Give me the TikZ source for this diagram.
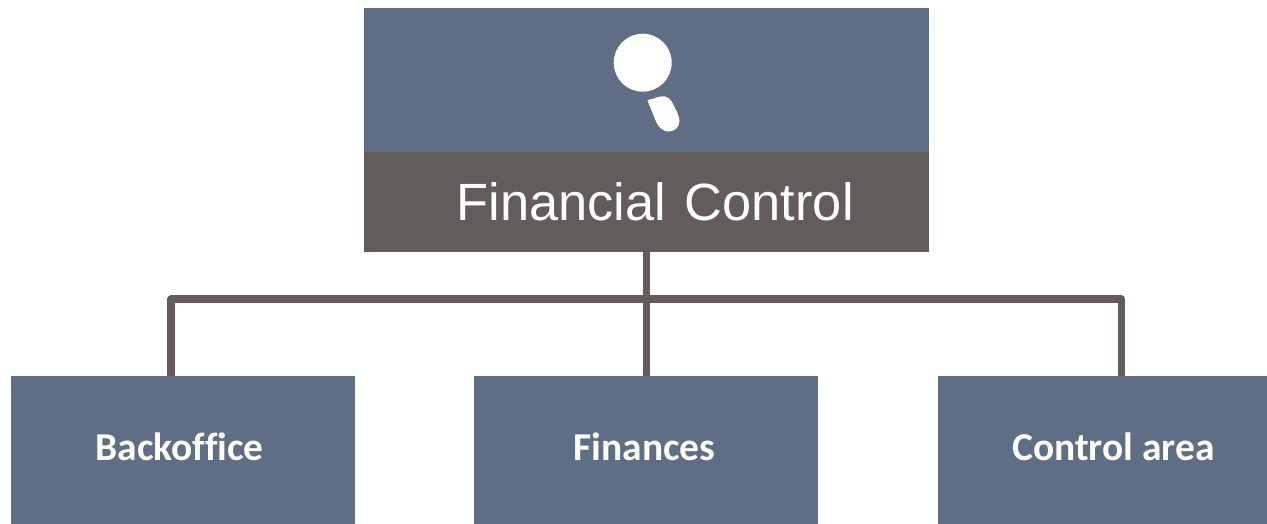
\documentclass[tikz,border=0pt]{standalone}
\usepackage{fontspec}
\setmainfont{Liberation Sans}
\newfontfamily\boxfont[Ligatures=NoCommon]{Carlito}
\definecolor{slateblue}{HTML}{5F6E85}
\definecolor{darkgrey}{HTML}{625D5B}
\newcommand{\areatext}[2]{\hspace*{#1}\raisebox{4.5pt}{#2}}
\begin{document}
\begin{tikzpicture}[x=0.75pt,y=-0.75pt,
    head/.style={fill=slateblue,minimum width=423.75pt,minimum height=108pt,inner sep=0pt},
    title/.style={fill=darkgrey,text=white,minimum width=423.75pt,minimum height=75pt,inner sep=0pt,font=\fontsize{39.3}{44}\selectfont},
    area/.style={fill=slateblue,text=white,minimum height=111pt,inner sep=0pt,font=\boxfont\bfseries\fontsize{29.6}{36}\selectfont},
    line/.style={draw=darkgrey,line width=5.8pt,line join=round}]
      \useasboundingbox (0,0) rectangle (1267,524);

      \node[head] (top) at (646.5, 80) {};
      \node[title] (fc) at (646.5, 202) {\hspace*{13pt}Financial\hspace{3pt} Control};
      \node[area,minimum width=258pt] (back) at (183, 450) {\areatext{-5.2pt}{Backoffice}};
      \node[area,minimum width=258pt] (fin) at (646, 450) {\areatext{-2.2pt}{Finances}};
      \node[area,minimum width=246.75pt] (ctrl) at (1102.5, 450) {\areatext{16.5pt}{Control area}};

      % magnifier
      \node[circle,fill=white,minimum size=43.5pt,inner sep=0pt] (lens) at (642.7, 62.7) {};
      \fill[white] (647.3, 100) .. controls (655, 99) and (660, 95) .. (665, 96.5)
        .. controls (671, 98) and (673, 104) .. (675, 108)
        .. controls (678, 114) and (681, 120) .. (678.5, 125.5)
        .. controls (676, 131) and (669, 133) .. (664, 130.5)
        .. controls (659, 128) and (657, 124) .. (655, 119) -- cycle;

      \coordinate (split) at (646.5, 299.3);
      \coordinate (backdrop) at ([xshift=-9pt]back.north);
      \coordinate (ctrldrop) at ([xshift=14.25pt]ctrl.north);
      \draw[line] (fc.south) -- (fin.north -| fc.south);
      \draw[line] (backdrop) |- (split) -| (ctrldrop);
\end{tikzpicture}
\end{document}
